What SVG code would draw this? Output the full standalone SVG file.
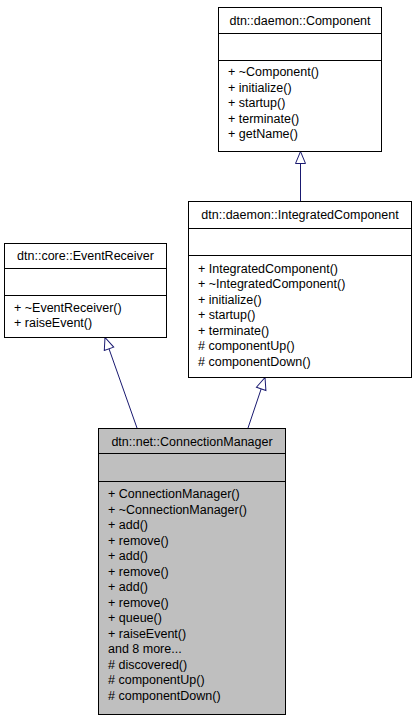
<svg xmlns="http://www.w3.org/2000/svg" width="416" height="723" viewBox="0 0 416 723">
<style>
  .box { fill: #ffffff; stroke: #000000; stroke-width: 1; }
  .cur { fill: #bfbfbf; stroke: #000000; stroke-width: 1; }
  .sep { stroke: #000000; stroke-width: 1; fill: none; }
  text { font-family: "Liberation Sans", Arial, Helvetica, sans-serif; font-size: 12.5px; fill: #000000; }
  .title { text-anchor: middle; }
  .edge { stroke: #191970; stroke-width: 1; fill: none; marker-end: url(#tri); }
</style>
<defs>
  <marker id="tri" markerUnits="userSpaceOnUse" markerWidth="14" markerHeight="12" viewBox="-1 -1 14 12" refX="12" refY="5" orient="auto">
    <path d="M0,0 L12,5 L0,10 Z" fill="#ffffff" stroke="#191970" stroke-width="1"/>
  </marker>
</defs>
<rect x="0" y="0" width="416" height="723" fill="#ffffff"/>

<g id="connectors">
  <path class="edge" d="M300.5,201 L300.5,151.5"/>
  <path class="edge" d="M137,428 L105,337.5"/>
  <path class="edge" d="M248,428 L265,377.5"/>
</g>

<g id="Component">
  <rect class="box" x="218.5" y="7.5" width="163" height="144"/>
  <line class="sep" x1="218.5" y1="33.5" x2="381.5" y2="33.5"/>
  <line class="sep" x1="218.5" y1="60.5" x2="381.5" y2="60.5"/>
  <text class="title" x="300" y="25">dtn::daemon::Component</text>
  <text x="228" y="76">+ ~Component()</text>
  <text x="228" y="91.5">+ initialize()</text>
  <text x="228" y="107">+ startup()</text>
  <text x="228" y="122.5">+ terminate()</text>
  <text x="228" y="138">+ getName()</text>
</g>

<g id="IntegratedComponent">
  <rect class="box" x="188.5" y="201.5" width="223" height="176"/>
  <line class="sep" x1="188.5" y1="228.5" x2="411.5" y2="228.5"/>
  <line class="sep" x1="188.5" y1="255.5" x2="411.5" y2="255.5"/>
  <text class="title" x="300" y="219">dtn::daemon::IntegratedComponent</text>
  <text x="198" y="272.5">+ IntegratedComponent()</text>
  <text x="198" y="288">+ ~IntegratedComponent()</text>
  <text x="198" y="303.5">+ initialize()</text>
  <text x="198" y="319">+ startup()</text>
  <text x="198" y="334.5">+ terminate()</text>
  <text x="198" y="350"># componentUp()</text>
  <text x="198" y="365.5"># componentDown()</text>
</g>

<g id="EventReceiver">
  <rect class="box" x="4.5" y="243.5" width="162" height="94"/>
  <line class="sep" x1="4.5" y1="268.5" x2="166.5" y2="268.5"/>
  <line class="sep" x1="4.5" y1="295.5" x2="166.5" y2="295.5"/>
  <text class="title" x="85.5" y="259.5">dtn::core::EventReceiver</text>
  <text x="14" y="311.5">+ ~EventReceiver()</text>
  <text x="14" y="327">+ raiseEvent()</text>
</g>

<g id="ConnectionManager">
  <rect class="cur" x="98.5" y="428.5" width="187" height="286"/>
  <line class="sep" x1="98.5" y1="453.5" x2="285.5" y2="453.5"/>
  <line class="sep" x1="98.5" y1="481.5" x2="285.5" y2="481.5"/>
  <text class="title" x="192" y="445.5">dtn::net::ConnectionManager</text>
  <text x="108" y="498">+ ConnectionManager()</text>
  <text x="108" y="513.5">+ ~ConnectionManager()</text>
  <text x="108" y="529">+ add()</text>
  <text x="108" y="544.5">+ remove()</text>
  <text x="108" y="560">+ add()</text>
  <text x="108" y="575.5">+ remove()</text>
  <text x="108" y="591">+ add()</text>
  <text x="108" y="606.5">+ remove()</text>
  <text x="108" y="622">+ queue()</text>
  <text x="108" y="637.5">+ raiseEvent()</text>
  <text x="108" y="653">and 8 more...</text>
  <text x="108" y="668.5"># discovered()</text>
  <text x="108" y="684"># componentUp()</text>
  <text x="108" y="699.5"># componentDown()</text>
</g>
</svg>
